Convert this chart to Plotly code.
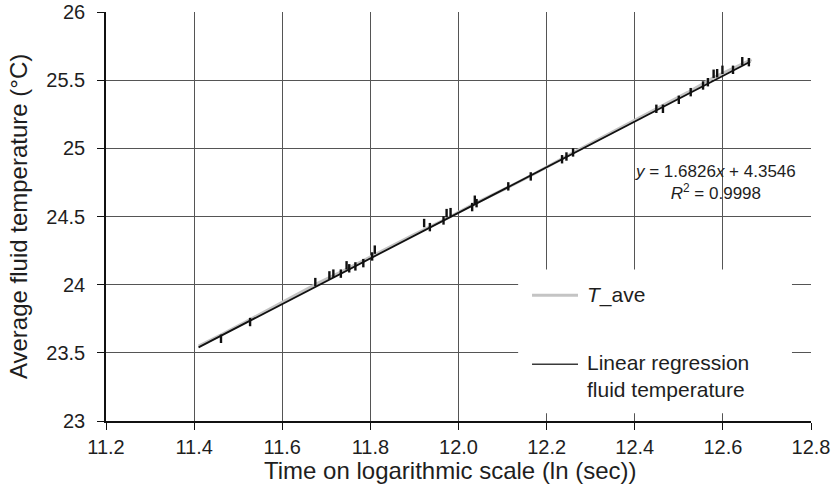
import plotly.graph_objects as go

# ---- data ----
tave_x = [11.41, 11.46, 11.53, 11.60, 11.68, 11.75, 11.81, 11.90, 11.97, 12.04, 12.11, 12.17, 12.25, 12.35, 12.45, 12.52, 12.58, 12.62, 12.665]
tave_y = [23.55, 23.63, 23.75, 23.87, 24.01, 24.12, 24.22, 24.37, 24.48, 24.60, 24.71, 24.81, 24.95, 25.12, 25.29, 25.41, 25.52, 25.58, 25.65]

step_x = [11.461, 11.527, 11.675, 11.707, 11.716, 11.733, 11.746, 11.752, 11.766, 11.784, 11.804, 11.810,
          11.922, 11.935, 11.966, 11.973, 11.982, 12.031, 12.037, 12.041, 12.113, 12.164,
          12.235, 12.245, 12.26, 12.449, 12.464, 12.500, 12.527, 12.555, 12.566, 12.579, 12.587,
          12.599, 12.623, 12.644, 12.659]
step_y = [23.603, 23.726, 24.019, 24.068, 24.081, 24.081, 24.142, 24.120, 24.134, 24.158, 24.207, 24.257,
          24.452, 24.422, 24.471, 24.525, 24.532, 24.569, 24.623, 24.598, 24.721, 24.794,
          24.92, 24.94, 24.97, 25.290, 25.290, 25.356, 25.412, 25.461, 25.485, 25.547, 25.551,
          25.576, 25.576, 25.639, 25.632]

reg_x = [11.41, 12.662]
reg_y = [23.54, 25.635]

x_ticks = [11.2, 11.4, 11.6, 11.8, 12.0, 12.2, 12.4, 12.6, 12.8]
x_tick_labels = ["11.2", "11.4", "11.6", "11.8", "12.0", "12.2", "12.4", "12.6", "12.8"]
y_ticks = [23, 23.5, 24, 24.5, 25, 25.5, 26]
y_tick_labels = ["23", "23.5", "24", "24.5", "25", "25.5", "26"]

FONT = "Liberation Sans, Arial, sans-serif"
TXT = "#1e1e1e"

fig = go.Figure()
fig.add_trace(go.Scatter(x=tave_x, y=tave_y, mode="lines", name="T_ave",
                         line=dict(color="#c4c4c4", width=3), showlegend=False))
fig.add_trace(go.Scatter(x=step_x, y=step_y, mode="markers", name="T_ave steps",
                         marker=dict(symbol="line-ns", size=6, line=dict(color="#111111", width=2.4)),
                         showlegend=False))
fig.add_trace(go.Scatter(x=reg_x, y=reg_y, mode="lines", name="Linear regression",
                         line=dict(color="#111111", width=1.8), showlegend=False))

# legend box (custom)
fig.add_shape(type="rect", xref="paper", yref="paper", x0=0.5846, x1=0.973, y0=0.0188, y1=0.3707,
              fillcolor="white", line=dict(width=0), layer="above")
fig.add_shape(type="line", xref="paper", yref="paper", x0=0.6043, x1=0.6695, y0=0.3072, y1=0.3072,
              line=dict(color="#c4c4c4", width=3), layer="above")
fig.add_shape(type="line", xref="paper", yref="paper", x0=0.6043, x1=0.6695, y0=0.1386, y1=0.1386,
              line=dict(color="#3a3a3a", width=1.6), layer="above")
fig.add_annotation(xref="paper", yref="paper", x=0.680, y=0.3072, xanchor="left", yanchor="middle",
                   text="<i>T</i>_ave", showarrow=False, font=dict(size=21, color=TXT, family=FONT))
fig.add_annotation(xref="paper", yref="paper", x=0.680, y=0.1100, xanchor="left", yanchor="middle",
                   text="Linear regression<br>fluid temperature", showarrow=False, align="left",
                   font=dict(size=21, color=TXT, family=FONT))

# equation
fig.add_annotation(xref="paper", yref="paper", x=0.865, y=0.583, xanchor="center", yanchor="middle",
                   text="<i>y</i> = 1.6826<i>x</i> + 4.3546<br><i>R</i><sup>2</sup> = 0.9998",
                   showarrow=False, align="center", font=dict(size=17, color=TXT, family=FONT))

# axis titles
fig.add_annotation(xref="paper", yref="paper", x=0.488, y=-0.12, xanchor="center", yanchor="middle",
                   text="Time on logarithmic scale (ln (sec))", showarrow=False,
                   font=dict(size=24, color=TXT, family=FONT))
fig.add_annotation(xref="paper", yref="paper", x=-0.124, y=0.5, xanchor="center", yanchor="middle",
                   text="Average fluid temperature (°C)", showarrow=False, textangle=-90,
                   font=dict(size=24, color=TXT, family=FONT))

fig.update_xaxes(range=[11.2, 12.8], tickvals=x_ticks, ticktext=x_tick_labels,
                 showgrid=True, gridcolor="#555555", gridwidth=1, automargin=False,
                 showline=True, linecolor="#111111", linewidth=1.5,
                 ticks="outside", ticklen=7, tickcolor="#111111", tickwidth=1.2,
                 tickfont=dict(size=20, color=TXT, family=FONT), zeroline=False)
fig.update_yaxes(range=[23, 26], tickvals=y_ticks, ticktext=y_tick_labels,
                 showgrid=True, gridcolor="#555555", gridwidth=1, automargin=False,
                 showline=True, linecolor="#111111", linewidth=1.5,
                 ticks="outside", ticklen=7, tickcolor="#111111", tickwidth=1.2,
                 ticklabelstandoff=8,
                 tickfont=dict(size=20, color=TXT, family=FONT), zeroline=False)

fig.update_layout(width=834, height=488, margin=dict(l=106, r=23, t=12, b=67, autoexpand=False),
                  plot_bgcolor="white", paper_bgcolor="white", showlegend=False)

fig.write_html("out.html", config={"displayModeBar": False},
               post_script="document.body.style.margin='0';document.body.style.overflow='hidden';")
